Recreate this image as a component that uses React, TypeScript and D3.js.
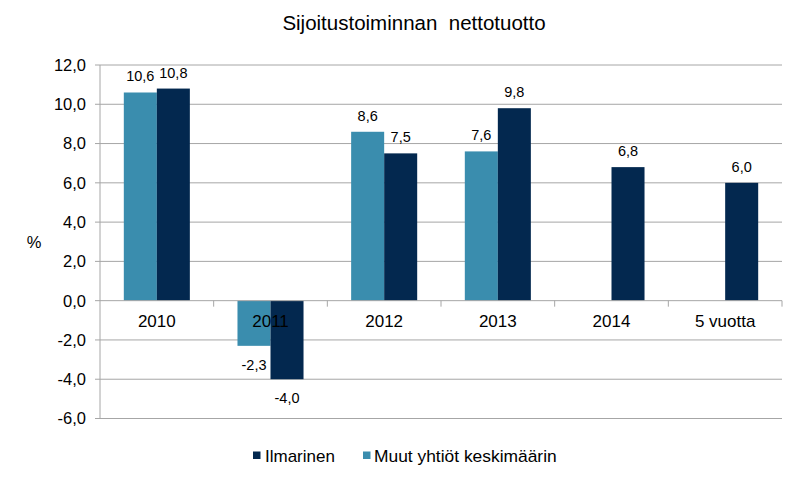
import React from "react";
import * as d3 from "d3";

const categories = ["2010", "2011", "2012", "2013", "2014", "5 vuotta"];
const ilmarinen: number[] = [10.8, -4.0, 7.5, 9.8, 6.8, 6.0];
const muut: (number | null)[] = [10.6, -2.3, 8.6, 7.6, null, null];
const yTicks = [-6, -4, -2, 0, 2, 4, 6, 8, 10, 12];
const seriesNames = ["Muut yhtiöt keskimäärin", "Ilmarinen"];
const title = "Sijoitustoiminnan  nettotuotto";

const NAVY = "#03284F";
const TEAL = "#3A8DAE";
const GRID = "#A6A6A6";
const FONT = "'Liberation Sans', Arial, sans-serif";

export default function App() {
  const W = 805, H = 484;
  const left = 100, right = 782, top = 65, bottom = 418.5;
  const x0 = d3.scaleBand<string>().domain(categories).range([left, right]).paddingInner(0.419).paddingOuter(0.2095);
  const x1 = d3.scaleBand<string>().domain(seriesNames).range([0, x0.bandwidth()]);
  const y = d3.scaleLinear().domain([-6, 12]).range([bottom, top]);
  const fmt = (v: number) => v.toFixed(1).replace(".", ",");
  const step = x0.step();

  const bars: { key: string; v: number; color: string; x: number }[] = [];
  categories.forEach((c, i) => {
    const m = muut[i];
    if (m !== null) bars.push({ key: c + "m", v: m, color: TEAL, x: (x0(c) as number) + (x1(seriesNames[0]) as number) });
    bars.push({ key: c + "i", v: ilmarinen[i], color: NAVY, x: (x0(c) as number) + (x1(seriesNames[1]) as number) });
  });
  const bw = x1.bandwidth();

  return (
    <svg width={W} height={H} style={{ position: "absolute", left: 0, top: 0, fontFamily: FONT }}>
      <rect width={W} height={H} fill="#fff" />
      <text x={414} y={29.5} textAnchor="middle" fontSize={20.5} fill="#000" style={{ whiteSpace: "pre" }}>{title}</text>
      {yTicks.map((t) => (
        <g key={t}>
          {t !== 0 && <line x1={left} x2={right} y1={y(t)} y2={y(t)} stroke={GRID} strokeWidth={1} />}
          <line x1={left - 5} x2={left} y1={y(t)} y2={y(t)} stroke={GRID} strokeWidth={1} />
          <text x={86} y={y(t)} dy="0.36em" textAnchor="end" fontSize={16.5} fill="#000">{fmt(t)}</text>
        </g>
      ))}
      <line x1={left} x2={left} y1={top} y2={bottom} stroke={GRID} strokeWidth={1} />
      <text x={34} y={242} dy="0.36em" textAnchor="middle" fontSize={16.5} fill="#000">%</text>
      {bars.map((b) => (
        <rect key={b.key} x={b.x} width={bw} y={Math.min(y(b.v), y(0))} height={Math.abs(y(b.v) - y(0))} fill={b.color} />
      ))}
      <line x1={left} x2={right} y1={y(0)} y2={y(0)} stroke={GRID} strokeWidth={1} />
      {categories.map((c, i) => (
        <line key={c} x1={left + (i + 1) * step} x2={left + (i + 1) * step} y1={y(0)} y2={y(0) + 6} stroke={GRID} strokeWidth={1} />
      ))}
      {categories.map((c) => (
        <text key={c} x={(x0(c) as number) + x0.bandwidth() / 2} y={327} textAnchor="middle" fontSize={17} fill="#000">{c}</text>
      ))}
      {bars.map((b) => (
        <text key={b.key + "l"} x={b.x + bw / 2} y={b.v >= 0 ? y(b.v) - 11 : y(b.v) + 24} textAnchor="middle" fontSize={14.5} fill="#000">{fmt(b.v)}</text>
      ))}
      <rect x={253} y={451.5} width={7.5} height={7.5} fill={NAVY} />
      <text x={265} y={462} fontSize={17} fill="#000">Ilmarinen</text>
      <rect x={363} y={451.5} width={7.5} height={7.5} fill={TEAL} />
      <text x={374} y={462} fontSize={17.4} fill="#000">{seriesNames[0]}</text>
    </svg>
  );
}
